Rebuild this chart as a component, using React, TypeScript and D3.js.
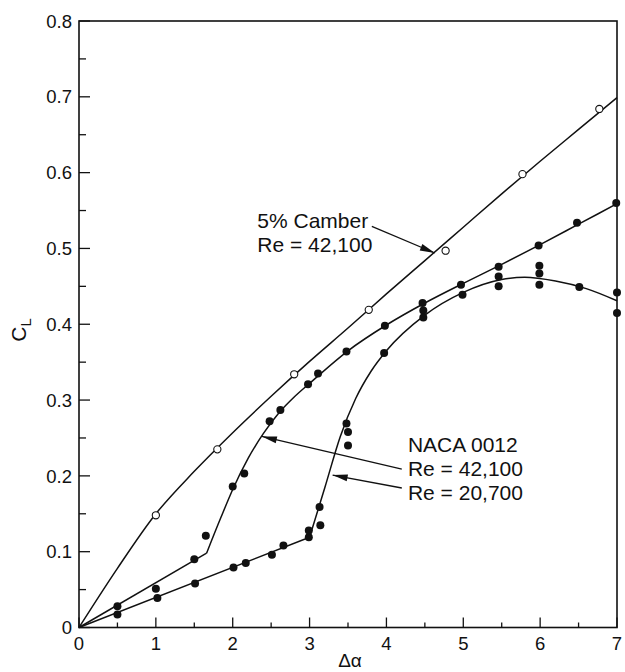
import React from "react";
import { scaleLinear, line, curveLinear, curveMonotoneX, range } from "d3";

const width = 625;
const height = 672;

// plot box in pixels
const left = 79;
const right = 617;
const top = 21;
const bottom = 627.5;

// measured points
const camberPoints = [
  [1.0, 0.148], [1.8, 0.235], [2.8, 0.334], [3.77, 0.419],
  [4.77, 0.497], [5.77, 0.598], [6.77, 0.684],
];
const re42Points = [
  [0.5, 0.028], [1.0, 0.051], [1.5, 0.09], [1.65, 0.121], [2.0, 0.186],
  [2.15, 0.203], [2.48, 0.272], [2.62, 0.287], [2.98, 0.321], [3.11, 0.335],
  [3.48, 0.364], [3.98, 0.398], [4.47, 0.428], [4.97, 0.452], [5.46, 0.476],
  [5.98, 0.504], [6.48, 0.534], [6.99, 0.56],
];
const re20Points = [
  [0.5, 0.017], [1.02, 0.039], [1.51, 0.058], [2.01, 0.079], [2.17, 0.085],
  [2.51, 0.096], [2.66, 0.108], [2.99, 0.119], [2.99, 0.128], [3.14, 0.135],
  [3.13, 0.159], [3.48, 0.269], [3.5, 0.258], [3.5, 0.24], [3.97, 0.362],
  [4.48, 0.418], [4.48, 0.409], [4.99, 0.439], [5.46, 0.463], [5.46, 0.45],
  [5.99, 0.477], [5.99, 0.467], [5.99, 0.452], [6.51, 0.449], [7.0, 0.442],
  [7.0, 0.415],
];

// faired curves
const camberCurve = [
  [0, 0], [0.5, 0.078], [1, 0.15], [1.5, 0.206], [2, 0.257], [2.5, 0.305],
  [3, 0.351], [3.5, 0.395], [4, 0.44], [4.5, 0.484], [5, 0.528], [5.5, 0.572],
  [6, 0.615], [6.5, 0.657], [7, 0.699],
];
const re42Straight = [[0, 0], [1.66, 0.098]];
const re42Curve = [
  [1.66, 0.098], [1.85, 0.146], [2.0, 0.182], [2.2, 0.223], [2.4, 0.256],
  [2.6, 0.283], [2.8, 0.304], [3.0, 0.322], [3.5, 0.365], [4.0, 0.399],
  [4.5, 0.428], [5.0, 0.454], [5.5, 0.479], [6.0, 0.505], [6.5, 0.532],
  [7.0, 0.559],
];
const re20Straight = [[0, 0], [3.0, 0.119]];
const re20Curve = [
  [3.0, 0.119], [3.2, 0.185], [3.4, 0.252], [3.6, 0.302], [3.8, 0.338],
  [4.0, 0.365], [4.5, 0.412], [5.0, 0.442], [5.5, 0.459], [5.8, 0.462],
  [6.2, 0.457], [6.6, 0.447], [7.0, 0.431],
];

const xTicks = [0, 1, 2, 3, 4, 5, 6, 7];
const yTicks = [0, 0.1, 0.2, 0.3, 0.4, 0.5, 0.6, 0.7, 0.8];
const yTickLabels = ["0", "0.1", "0.2", "0.3", "0.4", "0.5", "0.6", "0.7", "0.8"];

// annotations (data coords)
const labels = [
  { x: 2.32, y: 0.527, lines: ["5% Camber", "Re = 42,100"] },
  { x: 4.28, y: 0.232, lines: ["NACA 0012", "Re = 42,100", "Re = 20,700"] },
];
const arrows = [
  { from: [3.81, 0.529], to: [4.63, 0.494] },
  { from: [4.2, 0.209], to: [2.38, 0.252] },
  { from: [4.2, 0.184], to: [3.3, 0.201] },
];

const font = "'Liberation Sans', Arial, Helvetica, sans-serif";

export default function App() {
  const x = scaleLinear().domain([0, 7]).range([left, right]);
  const y = scaleLinear().domain([0, 0.8]).range([bottom, top]);

  const mk = (curve) =>
    line()
      .x((d) => x(d[0]))
      .y((d) => y(d[1]))
      .curve(curve);

  const lineStyle = { fill: "none", stroke: "#111", strokeWidth: 1.5 };

  const arrowHead = (a) => {
    const x1 = x(a.from[0]), y1 = y(a.from[1]);
    const x2 = x(a.to[0]), y2 = y(a.to[1]);
    const ang = Math.atan2(y2 - y1, x2 - x1);
    const len = 15, w = 3.5;
    const bx = x2 - len * Math.cos(ang), by = y2 - len * Math.sin(ang);
    const px = -Math.sin(ang) * w, py = Math.cos(ang) * w;
    return `M${x2},${y2}L${bx + px},${by + py}L${bx - px},${by - py}Z`;
  };

  return (
    <svg
      width={width}
      height={height}
      style={{ position: "absolute", left: 0, top: 0, background: "#fff" }}
      fontFamily={font}
    >
      {/* frame */}
      <rect x={left} y={top} width={right - left} height={bottom - top} fill="none" stroke="#111" strokeWidth={1.6} />

      {/* y ticks */}
      {range(0, 0.8001, 0.05).map((v, i) => (
        <line key={"yt" + i} x1={left} x2={left + (i % 2 === 0 ? 11 : 7)} y1={y(v)} y2={y(v)} stroke="#111" strokeWidth={1.3} />
      ))}
      {yTicks.map((v, i) => (
        <text key={"yl" + i} x={left - 7} y={y(v)} dy="0.36em" textAnchor="end" fontSize={18.5} fill="#111">
          {yTickLabels[i]}
        </text>
      ))}

      {/* x ticks */}
      {range(0, 7.001, 0.5).map((v, i) => (
        <line key={"xt" + i} x1={x(v)} x2={x(v)} y1={bottom} y2={bottom - (i % 2 === 0 ? 10 : 5)} stroke="#111" strokeWidth={1.3} />
      ))}
      {xTicks.map((v) => (
        <text key={"xl" + v} x={x(v)} y={bottom + 22} textAnchor="middle" fontSize={18.5} fill="#111">
          {v}
        </text>
      ))}

      {/* axis titles */}
      <text x={350} y={667} textAnchor="middle" fontSize={19} fill="#111">Δα</text>
      <text transform={`translate(26, 330) rotate(-90)`} textAnchor="middle" fontSize={21} fill="#111">
        C<tspan fontSize={15} dy={5}>L</tspan>
      </text>

      {/* curves */}
      <path d={mk(curveMonotoneX)(camberCurve)} {...lineStyle} />
      <path d={mk(curveLinear)(re42Straight)} {...lineStyle} />
      <path d={mk(curveMonotoneX)(re42Curve)} {...lineStyle} />
      <path d={mk(curveLinear)(re20Straight)} {...lineStyle} />
      <path d={mk(curveMonotoneX)(re20Curve)} {...lineStyle} />

      {/* points */}
      {camberPoints.map((d, i) => (
        <circle key={"c" + i} cx={x(d[0])} cy={y(d[1])} r={3.6} fill="#fff" stroke="#111" strokeWidth={1.1} />
      ))}
      {re42Points.map((d, i) => (
        <circle key={"a" + i} cx={x(d[0])} cy={y(d[1])} r={4} fill="#111" />
      ))}
      {re20Points.map((d, i) => (
        <circle key={"b" + i} cx={x(d[0])} cy={y(d[1])} r={4} fill="#111" />
      ))}

      {/* annotations */}
      {arrows.map((a, i) => (
        <g key={"ar" + i}>
          <line x1={x(a.from[0])} y1={y(a.from[1])} x2={x(a.to[0])} y2={y(a.to[1])} stroke="#111" strokeWidth={1.3} />
          <path d={arrowHead(a)} fill="#111" />
        </g>
      ))}
      {labels.map((l, i) => (
        <text key={"lb" + i} x={x(l.x)} y={y(l.y)} fontSize={21} fill="#111">
          {l.lines.map((t, j) => (
            <tspan key={j} x={x(l.x)} dy={j === 0 ? 0 : 24.3}>{t}</tspan>
          ))}
        </text>
      ))}
    </svg>
  );
}
